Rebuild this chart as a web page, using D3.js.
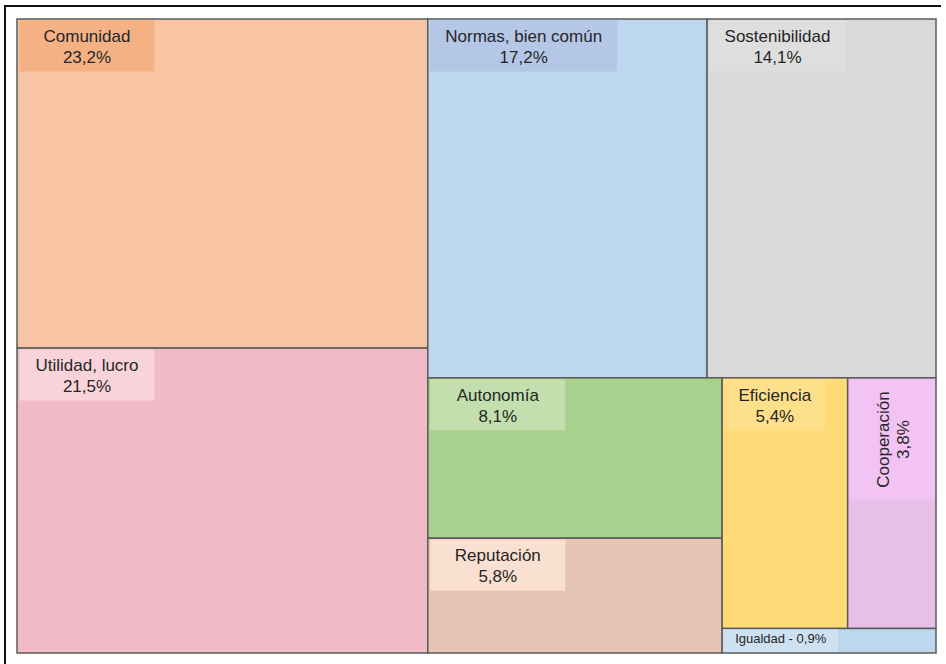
<!DOCTYPE html>
<html lang="es">
<head>
  <meta charset="UTF-8" />
  <title>Treemap</title>
  <script src="https://d3js.org/d3.v7.min.js"></script>
  <style>
    body { margin: 0; background: #fff; }
    svg { display: block; font-family: "Liberation Sans", Arial, sans-serif; }
    .cell { stroke: #5b5b5b; stroke-width: 1.5px; }
    .lbl { fill: #262626; font-size: 17px; text-anchor: middle; }
    .lbl-small { fill: #262626; font-size: 13px; }
  </style>
</head>
<body>
  <svg id="chart" width="946" height="664"></svg>

  <script>
    // leaf data
    const categories = ['Comunidad', 'Utilidad, lucro', 'Normas, bien común', 'Sostenibilidad',
                        'Autonomía', 'Reputación', 'Eficiencia', 'Cooperación', 'Igualdad'];
    const shares = [23.2, 21.5, 17.2, 14.1, 8.1, 5.8, 5.4, 3.8, 0.9];
    const leafGroup = ['left', 'left', 'rightTop', 'rightTop', 'colA', 'colA', 'effCoop', 'effCoop', 'colB'];
    const fills = ['#f7c5a4', '#f0bac6', '#bdd7ee', '#d9d9d9', '#a9d18e', '#e6c5b5', '#ffdb78', '#e8bfe8', '#bdd7ee'];
    const labelFills = ['#f4b184', '#f8d4da', '#b4c7e7', '#dedede', '#c2dfad', '#fae0d0', '#ffe08a', '#f3c3f3', '#cde1f1'];

    // nesting of the tiles (slice/dice alternates by depth)
    const groupIds = ['root', 'left', 'right', 'rightTop', 'rightBottom', 'colA', 'colB', 'effCoop'];
    const groupParents = ['', 'root', 'root', 'right', 'right', 'rightBottom', 'rightBottom', 'colB'];

    const svg = d3.select('#chart');
    const x0 = 17, y0 = 19, W = 919, H = 634;

    // screenshot frame, top and left edges
    svg.append('path').attr('d', `M5,${664}V6H941`).attr('fill', 'none').attr('stroke', '#111').attr('stroke-width', 2);

    const rows = groupIds.map((id, i) => ({ id, parent: groupParents[i] || null }))
      .concat(categories.map((c, i) => ({ id: c, parent: leafGroup[i], value: shares[i], idx: i })));

    const root = d3.stratify().id(d => d.id).parentId(d => d.parent)(rows)
      .sum(d => d.value || 0);

    d3.treemap().tile(d3.treemapSliceDice).size([W, H]).round(false)(root);

    const es = d3.formatLocale({ decimal: ',', thousands: '.', grouping: [3], currency: ['', '€'] });
    const pct = v => es.format('.1f')(v) + '%';

    const g = svg.append('g').attr('transform', `translate(${x0},${y0})`);

    const leaves = g.selectAll('g.leaf').data(root.leaves()).join('g').attr('class', 'leaf');

    leaves.append('rect').attr('class', 'cell')
      .attr('x', d => d.x0).attr('y', d => d.y0)
      .attr('width', d => d.x1 - d.x0).attr('height', d => d.y1 - d.y0)
      .attr('fill', d => fills[d.data.idx]);

    leaves.each(function(d) {
      const sel = d3.select(this);
      const w = d.x1 - d.x0, h = d.y1 - d.y0;
      const i = d.data.idx;
      const box = sel.append('rect').attr('fill', labelFills[i]);

      if (h < 40) {
        // thin strip: single small line
        const t = sel.append('text').attr('class', 'lbl-small')
          .attr('x', d.x0 + 13).attr('y', d.y0 + 15)
          .text(`${categories[i]} - ${pct(shares[i])}`);
        const tw = t.node().getComputedTextLength();
        box.attr('x', d.x0 + 1).attr('y', d.y0 + 1).attr('width', tw + 24).attr('height', h - 2);
        t.raise();
      } else if (w < 100) {
        // narrow column: rotated label
        const cx = d.x0 + w / 2;
        const t = sel.append('text').attr('class', 'lbl');
        t.append('tspan').attr('x', 0).attr('y', -3).text(categories[i]);
        t.append('tspan').attr('x', 0).attr('y', 17).text(pct(shares[i]));
        const tw = t.select('tspan').node().getComputedTextLength();
        const bh = tw + 24;
        box.attr('x', d.x0 + 1.5).attr('y', d.y0 + 1.5).attr('width', w - 3).attr('height', bh);
        t.attr('transform', `translate(${cx},${d.y0 + 1.5 + bh / 2}) rotate(-90)`);
      } else {
        const t = sel.append('text').attr('class', 'lbl');
        const t1 = t.append('tspan').attr('y', d.y0 + 23).text(categories[i]);
        const t2 = t.append('tspan').attr('y', d.y0 + 44).text(pct(shares[i]));
        const tw = t1.node().getComputedTextLength();
        const bw = Math.min(Math.max(tw + 30, 135), 0.8 * w);
        const bx = d.x0 + 2.5;
        box.attr('x', bx).attr('y', d.y0 + 1.5).attr('width', bw).attr('height', 51);
        t1.attr('x', bx + bw / 2);
        t2.attr('x', bx + bw / 2);
      }
    });
  </script>
</body>
</html>
